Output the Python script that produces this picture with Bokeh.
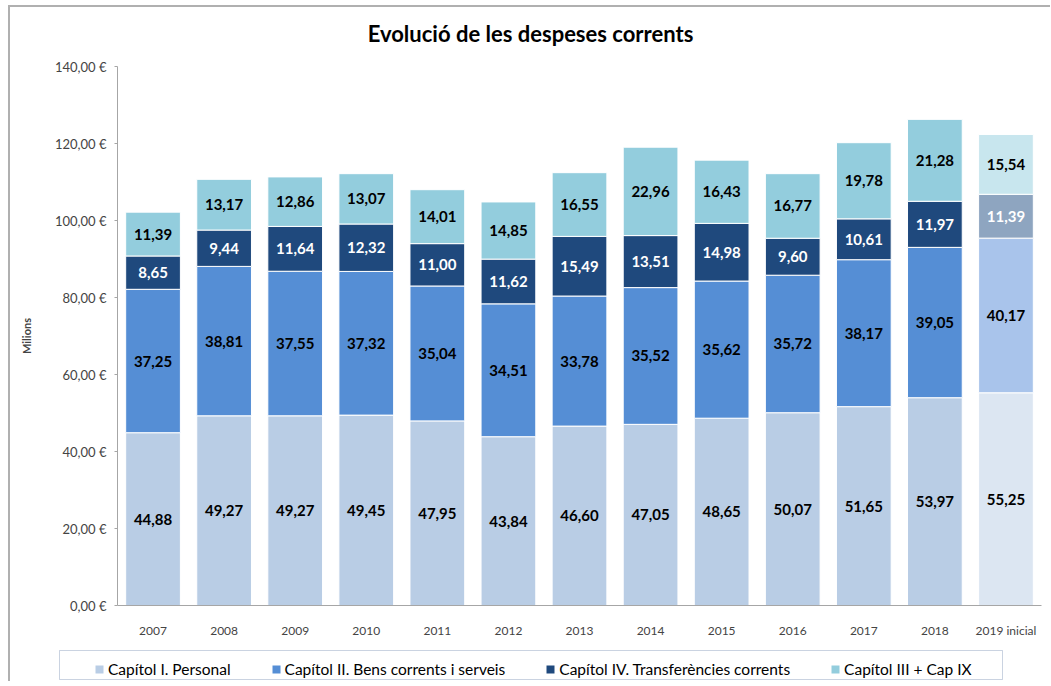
from bokeh.plotting import figure
from bokeh.layouts import column, row
from bokeh.models import (ColumnDataSource, Legend, LegendItem, CustomJSTickFormatter, FixedTicker,
                          Range1d, Label, BoxAnnotation)
from bokeh.core.properties import value
from bokeh.embed import file_html
from bokeh.resources import INLINE

title_text = "Evolució de les despeses corrents"
years = ["2007", "2008", "2009", "2010", "2011", "2012", "2013", "2014", "2015", "2016", "2017", "2018", "2019 inicial"]
personal = [44.88, 49.27, 49.27, 49.45, 47.95, 43.84, 46.60, 47.05, 48.65, 50.07, 51.65, 53.97, 55.25]
bens = [37.25, 38.81, 37.55, 37.32, 35.04, 34.51, 33.78, 35.52, 35.62, 35.72, 38.17, 39.05, 40.17]
transf = [8.65, 9.44, 11.64, 12.32, 11.00, 11.62, 15.49, 13.51, 14.98, 9.60, 10.61, 11.97, 11.39]
cap3 = [11.39, 13.17, 12.86, 13.07, 14.01, 14.85, 16.55, 22.96, 16.43, 16.77, 19.78, 21.28, 15.54]

series_names = ["Capítol I. Personal", "Capítol II. Bens corrents i serveis",
                "Capítol IV. Transferències corrents", "Capítol III + Cap IX"]
series = [personal, bens, transf, cap3]
colors = ["#B9CDE5", "#558ED5", "#1F497D", "#93CDDD"]
colors_2019 = ["#DCE6F2", "#A9C4EB", "#8EA5C0", "#C8E6EE"]
label_colors = ["black", "black", "white", "black"]

FONT = "Lato"
W = 1040

# title strip
p0 = figure(width=W, height=45, x_range=Range1d(0, W), y_range=Range1d(45, 0),
            output_backend="svg", toolbar_location=None, min_border=0,
            background_fill_color="white", border_fill_color="white")
p0.outline_line_color = None
p0.axis.visible = False
p0.grid.visible = False
p0.add_layout(Label(x=520, y=26, text=title_text, text_align="center", text_baseline="middle",
                    text_font=FONT, text_font_size="22px", text_font_style="bold",
                    text_color="black"))

# main chart
p = figure(x_range=years, y_range=Range1d(0, 140), width=W, height=593, title=None,
           output_backend="svg", toolbar_location=None,
           min_border_left=107, min_border_right=9, min_border_top=14, min_border_bottom=40,
           background_fill_color="white", border_fill_color="white")
p.outline_line_color = None
p.xgrid.grid_line_color = None
p.ygrid.grid_line_color = None

bottoms = [0.0] * len(years)
for i, (name, vals) in enumerate(zip(series_names, series)):
    tops = [b + v for b, v in zip(bottoms, vals)]
    mids = [b + v / 2 for b, v in zip(bottoms, vals)]
    cols = [colors_2019[i] if y.startswith("2019") else colors[i] for y in years]
    src = ColumnDataSource(dict(x=years, bottom=bottoms, top=tops, mid=mids,
                                color=cols, lab=[f"{v:.2f}".replace(".", ",") for v in vals]))
    p.vbar(x="x", bottom="bottom", top="top", width=0.77, fill_color="color",
           line_color="white", line_width=1, source=src)
    p.text(x="x", y="mid", text="lab", source=src, text_align="center", text_baseline="middle",
           text_font=value(FONT), text_font_size="15px", text_font_style="bold",
           text_color=label_colors[i])
    bottoms = tops

p.yaxis.ticker = FixedTicker(ticks=[0, 20, 40, 60, 80, 100, 120, 140])
p.yaxis.formatter = CustomJSTickFormatter(code="return tick.toFixed(2).replace('.', ',') + ' €';")
p.yaxis.axis_label = "Milions"
p.yaxis.axis_label_text_font = FONT
p.yaxis.axis_label_text_font_size = "11px"
p.yaxis.axis_label_text_font_style = "bold"
p.yaxis.axis_label_standoff = 19
p.yaxis.major_label_text_font = FONT
p.yaxis.major_label_text_font_size = "13px"
p.yaxis.major_label_standoff = 8
p.yaxis.axis_line_color = "#A6A6A6"
p.yaxis.major_tick_line_color = "#A6A6A6"
p.yaxis.major_tick_out = 3
p.yaxis.major_tick_in = 0
p.yaxis.minor_tick_line_color = None

p.xaxis.major_label_text_font = FONT
p.xaxis.major_label_text_font_size = "12px"
p.xaxis.major_label_standoff = 11
p.xaxis.axis_line_color = "#A6A6A6"
p.xaxis.major_tick_line_color = None
p.xaxis.minor_tick_line_color = None

# legend strip
H2 = 36
p2 = figure(width=W, height=H2, x_range=Range1d(0, W), y_range=Range1d(0, H2),
            output_backend="svg", toolbar_location=None,
            min_border=0, background_fill_color="white", border_fill_color="white")
p2.outline_line_color = None
p2.axis.visible = False
p2.grid.visible = False
p2.add_layout(BoxAnnotation(left=49, right=992, bottom=2, top=31, fill_color="white",
                            fill_alpha=1, line_color="#4F6E9A", line_width=1))
items = []
for name, c in zip(series_names, colors):
    r = p2.vbar(x=[-100], top=[-100], width=1, fill_color=c, line_color=None)
    items.append(LegendItem(label=name, renderers=[r]))
legend = Legend(items=items, orientation="horizontal", location=(84, 3),
                label_text_font=FONT, label_text_font_size="15.5px", label_text_color="black",
                glyph_width=10, glyph_height=10, label_standoff=4, spacing=40,
                padding=4, margin=0, label_height=14,
                border_line_color=None, background_fill_alpha=0)
p2.add_layout(legend, "center")

layout = column(row(p0), p, row(p2), spacing=0)
layout.styles = {"margin-left": "8px", "margin-top": "5px",
                 "border-top": "2px solid #B0B0B0", "border-left": "2px solid #B0B0B0"}

open("out.html", "w").write(file_html(layout, INLINE))
